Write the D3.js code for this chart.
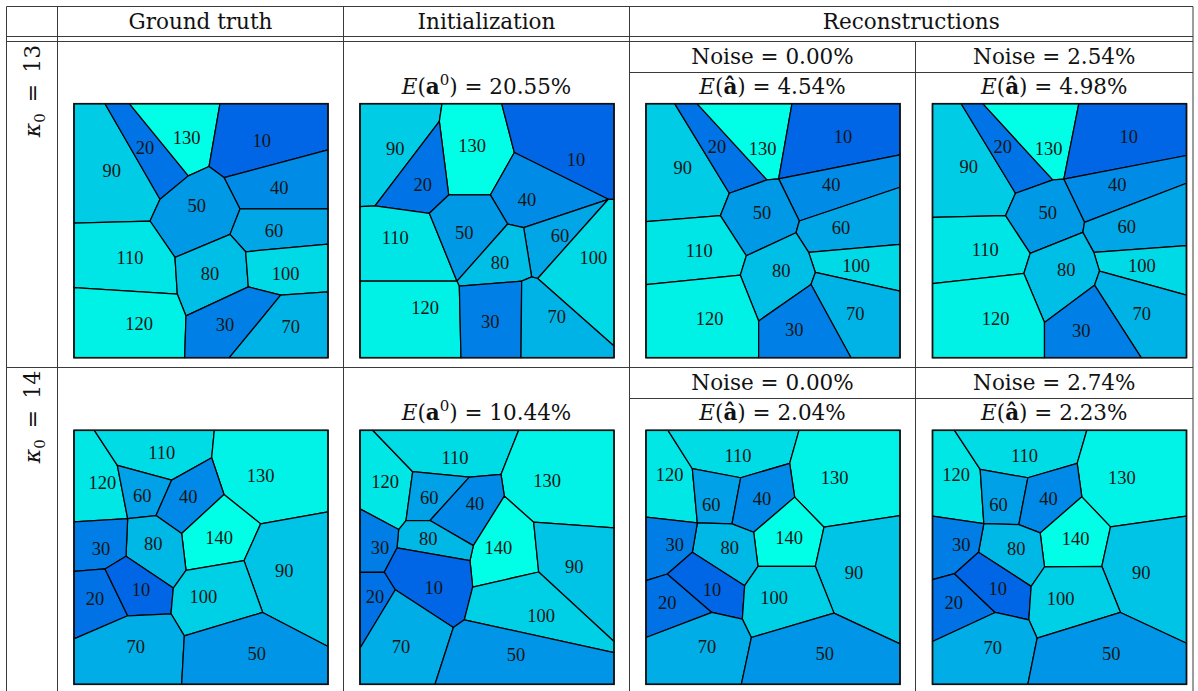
<!DOCTYPE html>
<html>
<head>
<meta charset="utf-8">
<script src="https://cdn.jsdelivr.net/npm/d3@7"></script>
<style>
  body { margin: 0; background: #fff; }
  svg { display: block; }
</style>
</head>
<body>
<svg id="fig" width="1198" height="691"></svg>
<script>
// ---- Tessellation data: each grain has its value, its generator site and its cell polygon
// (coordinates in microstructure units, x to the right, y downward, square 762 x 760).

const gt13 = [
  { value: 90,  site: [113, 201], cell: [[0,0],[93,0],[258,286],[228,351],[0,357]] },
  { value: 20,  site: [213, 131], cell: [[93,0],[166,0],[343,216],[258,286]] },
  { value: 130, site: [338, 103], cell: [[166,0],[438,0],[405,188],[343,216]] },
  { value: 10,  site: [563, 111], cell: [[438,0],[762,0],[762,138],[450,221],[405,188]] },
  { value: 40,  site: [616, 251], cell: [[450,221],[762,138],[762,315],[498,315]] },
  { value: 50,  site: [368, 305], cell: [[258,286],[343,216],[405,188],[450,221],[498,315],[468,391],[303,460],[228,351]] },
  { value: 60,  site: [600, 380], cell: [[498,315],[762,315],[762,420],[515,443],[468,391]] },
  { value: 110, site: [168, 460], cell: [[0,357],[228,351],[303,460],[310,570],[0,550]] },
  { value: 80,  site: [408, 510], cell: [[303,460],[468,391],[515,443],[523,548],[336,635],[310,570]] },
  { value: 100, site: [635, 510], cell: [[515,443],[762,420],[762,563],[620,573],[523,548]] },
  { value: 120, site: [195, 658], cell: [[0,550],[310,570],[336,635],[332,760],[0,760]] },
  { value: 30,  site: [453, 660], cell: [[336,635],[523,548],[620,573],[466,760],[332,760]] },
  { value: 70,  site: [650, 668], cell: [[620,573],[762,563],[762,760],[466,760]] }
];

const init13 = [
  { value: 90,  site: [106, 136], cell: [[0,0],[246,0],[238,53],[45,306],[0,308]] },
  { value: 130, site: [336, 126], cell: [[246,0],[425,0],[463,146],[391,273],[266,273],[238,53]] },
  { value: 10,  site: [648, 168], cell: [[425,0],[762,0],[762,286],[745,286],[463,146]] },
  { value: 20,  site: [188, 241], cell: [[238,53],[266,273],[208,328],[45,306]] },
  { value: 40,  site: [501, 288], cell: [[463,146],[745,286],[491,371],[443,360],[391,273]] },
  { value: 110, site: [106, 401], cell: [[0,308],[45,306],[208,328],[291,531],[0,531]] },
  { value: 50,  site: [313, 385], cell: [[266,273],[391,273],[443,360],[291,531],[208,328]] },
  { value: 60,  site: [600, 396], cell: [[491,371],[745,286],[533,523],[515,518]] },
  { value: 100, site: [700, 460], cell: [[533,523],[745,286],[762,286],[762,725]] },
  { value: 80,  site: [420, 476], cell: [[443,360],[491,371],[515,518],[485,531],[298,546],[291,531]] },
  { value: 120, site: [195, 611], cell: [[0,531],[291,531],[298,546],[303,760],[0,760]] },
  { value: 30,  site: [391, 651], cell: [[298,546],[485,531],[483,760],[303,760]] },
  { value: 70,  site: [590, 638], cell: [[485,531],[515,518],[533,523],[762,725],[762,760],[483,760]] }
];

const rec13Clean = [
  { value: 90,  site: [110, 193], cell: [[0,0],[86,0],[250,268],[223,335],[0,353]] },
  { value: 20,  site: [213, 128], cell: [[86,0],[153,0],[363,228],[250,268]] },
  { value: 130, site: [350, 135], cell: [[153,0],[438,0],[398,225],[363,228]] },
  { value: 10,  site: [591, 98],  cell: [[438,0],[762,0],[762,153],[398,225]] },
  { value: 40,  site: [556, 243], cell: [[398,225],[762,153],[762,250],[460,351]] },
  { value: 50,  site: [348, 326], cell: [[250,268],[363,228],[398,225],[460,351],[450,386],[301,455],[223,335]] },
  { value: 60,  site: [585, 371], cell: [[460,351],[762,250],[762,421],[488,445],[450,386]] },
  { value: 110, site: [160, 441], cell: [[0,353],[223,335],[301,455],[283,513],[0,541]] },
  { value: 100, site: [630, 485], cell: [[488,445],[762,421],[762,561],[508,505]] },
  { value: 80,  site: [406, 501], cell: [[301,455],[450,386],[488,445],[508,505],[495,541],[338,650],[283,513]] },
  { value: 120, site: [191, 643], cell: [[0,541],[283,513],[338,650],[338,760],[0,760]] },
  { value: 70,  site: [628, 628], cell: [[508,505],[762,561],[762,760],[615,760],[495,541]] },
  { value: 30,  site: [445, 676], cell: [[338,650],[495,541],[615,760],[338,760]] }
];

const rec13Noisy = [
  { value: 90,  site: [109, 190], cell: [[0,0],[86,0],[249,268],[219,335],[0,340]] },
  { value: 20,  site: [211, 128], cell: [[86,0],[151,0],[361,228],[249,268]] },
  { value: 130, site: [348, 135], cell: [[151,0],[439,0],[394,226],[361,228]] },
  { value: 10,  site: [589, 98],  cell: [[439,0],[762,0],[762,155],[394,226]] },
  { value: 40,  site: [554, 241], cell: [[394,226],[762,155],[762,238],[456,355]] },
  { value: 50,  site: [346, 326], cell: [[249,268],[361,228],[394,226],[456,355],[451,385],[293,448],[219,335]] },
  { value: 60,  site: [583, 368], cell: [[456,355],[762,238],[762,425],[484,445],[451,385]] },
  { value: 110, site: [158, 438], cell: [[0,340],[219,335],[293,448],[274,508],[0,538]] },
  { value: 100, site: [628, 485], cell: [[484,445],[762,425],[762,573],[501,501]] },
  { value: 80,  site: [401, 498], cell: [[293,448],[451,385],[484,445],[501,501],[486,543],[336,655],[274,508]] },
  { value: 120, site: [189, 643], cell: [[0,538],[274,508],[336,655],[336,760],[0,760]] },
  { value: 70,  site: [628, 628], cell: [[501,501],[762,573],[762,760],[626,760],[486,543]] },
  { value: 30,  site: [446, 680], cell: [[336,655],[486,543],[626,760],[336,760]] }
];

const gt14 = [
  { value: 120, site: [85, 157],  cell: [[0,0],[61,0],[130,105],[161,264],[0,274]] },
  { value: 110, site: [263, 67],  cell: [[61,0],[421,0],[413,82],[293,149],[130,105]] },
  { value: 130, site: [560, 135], cell: [[421,0],[762,0],[762,244],[560,280],[450,192],[413,82]] },
  { value: 60,  site: [205, 197], cell: [[130,105],[293,149],[246,255],[161,264]] },
  { value: 40,  site: [343, 200], cell: [[293,149],[413,82],[450,192],[323,309],[246,255]] },
  { value: 140, site: [435, 320], cell: [[450,192],[560,280],[510,390],[336,419],[323,309]] },
  { value: 90,  site: [631, 420], cell: [[560,280],[762,244],[762,647],[566,545],[510,390]] },
  { value: 80,  site: [238, 340], cell: [[161,264],[246,255],[323,309],[336,419],[298,472],[156,377]] },
  { value: 30,  site: [81, 354],  cell: [[0,274],[161,264],[156,377],[93,415],[0,422]] },
  { value: 20,  site: [63, 505],  cell: [[0,422],[93,415],[161,555],[0,624]] },
  { value: 10,  site: [201, 477], cell: [[93,415],[156,377],[298,472],[291,549],[161,555]] },
  { value: 100, site: [388, 499], cell: [[336,419],[510,390],[566,545],[331,615],[291,549],[298,472]] },
  { value: 70,  site: [185, 647], cell: [[0,624],[161,555],[291,549],[331,615],[323,760],[0,760]] },
  { value: 50,  site: [548, 669], cell: [[331,615],[566,545],[762,647],[762,760],[323,760]] }
];

const init14 = [
  { value: 120, site: [75, 155],  cell: [[0,0],[38,0],[158,124],[138,270],[116,297],[0,235]] },
  { value: 110, site: [285, 82],  cell: [[38,0],[476,0],[423,132],[328,140],[158,124]] },
  { value: 130, site: [561, 150], cell: [[476,0],[762,0],[762,292],[521,275],[433,197],[423,132]] },
  { value: 60,  site: [208, 202], cell: [[158,124],[328,140],[210,270],[138,270]] },
  { value: 40,  site: [345, 219], cell: [[328,140],[423,132],[433,197],[340,345],[210,270]] },
  { value: 140, site: [415, 352], cell: [[433,197],[521,275],[536,424],[338,469],[330,390],[340,345]] },
  { value: 90,  site: [643, 407], cell: [[521,275],[762,292],[762,632],[536,424]] },
  { value: 80,  site: [205, 325], cell: [[138,270],[210,270],[340,345],[330,390],[111,352],[116,297]] },
  { value: 30,  site: [60, 352],  cell: [[0,235],[116,297],[111,352],[73,424],[0,425]] },
  { value: 20,  site: [45, 497],  cell: [[0,425],[73,424],[106,477],[0,652]] },
  { value: 10,  site: [221, 470], cell: [[111,352],[330,390],[338,469],[313,567],[280,590],[106,477],[73,424]] },
  { value: 100, site: [543, 554], cell: [[338,469],[536,424],[762,632],[762,665],[313,567]] },
  { value: 70,  site: [123, 649], cell: [[0,652],[106,477],[280,590],[225,760],[0,760]] },
  { value: 50,  site: [468, 670], cell: [[280,590],[313,567],[762,665],[762,760],[225,760]] }
];

const rec14Clean = [
  { value: 120, site: [71, 132],  cell: [[0,0],[66,0],[139,115],[154,277],[0,260]] },
  { value: 110, site: [276, 75],  cell: [[66,0],[459,0],[431,99],[284,142],[139,115]] },
  { value: 130, site: [566, 142], cell: [[459,0],[762,0],[762,255],[534,290],[446,200],[431,99]] },
  { value: 60,  site: [196, 222], cell: [[139,115],[284,142],[258,280],[154,277]] },
  { value: 40,  site: [348, 205], cell: [[284,142],[431,99],[446,200],[323,305],[258,280]] },
  { value: 140, site: [429, 322], cell: [[446,200],[534,290],[508,407],[336,407],[323,305]] },
  { value: 90,  site: [624, 427], cell: [[534,290],[762,255],[762,639],[564,547],[508,407]] },
  { value: 80,  site: [251, 352], cell: [[154,277],[258,280],[323,305],[336,407],[296,465],[139,365]] },
  { value: 30,  site: [86, 342],  cell: [[0,260],[154,277],[139,365],[64,430],[0,450]] },
  { value: 20,  site: [64, 515],  cell: [[0,450],[64,430],[198,545],[0,620]] },
  { value: 10,  site: [198, 477], cell: [[139,365],[296,465],[289,565],[198,545],[64,430]] },
  { value: 100, site: [384, 502], cell: [[336,407],[508,407],[564,547],[316,620],[289,565],[296,465]] },
  { value: 70,  site: [183, 647], cell: [[0,620],[198,545],[289,565],[316,620],[286,760],[0,760]] },
  { value: 50,  site: [536, 669], cell: [[316,620],[564,547],[762,639],[762,760],[286,760]] }
];

const rec14Noisy = [
  { value: 120, site: [71, 132],  cell: [[0,0],[66,0],[143,117],[154,279],[0,257]] },
  { value: 110, site: [276, 75],  cell: [[66,0],[463,0],[434,99],[286,142],[143,117]] },
  { value: 130, site: [568, 142], cell: [[463,0],[762,0],[762,257],[534,289],[448,199],[434,99]] },
  { value: 60,  site: [198, 222], cell: [[143,117],[286,142],[259,282],[154,279]] },
  { value: 40,  site: [348, 205], cell: [[286,142],[434,99],[448,199],[323,307],[259,282]] },
  { value: 140, site: [429, 324], cell: [[448,199],[534,289],[508,407],[336,409],[323,307]] },
  { value: 90,  site: [626, 427], cell: [[534,289],[762,257],[762,637],[564,545],[508,407]] },
  { value: 80,  site: [251, 354], cell: [[154,279],[259,282],[323,307],[336,409],[296,467],[138,365]] },
  { value: 30,  site: [86, 342],  cell: [[0,257],[154,279],[138,365],[66,429],[0,447]] },
  { value: 20,  site: [64, 517],  cell: [[0,447],[66,429],[188,545],[0,632]] },
  { value: 10,  site: [196, 475], cell: [[138,365],[296,467],[289,567],[188,545],[66,429]] },
  { value: 100, site: [384, 504], cell: [[336,409],[508,407],[564,545],[314,622],[289,567],[296,467]] },
  { value: 70,  site: [181, 650], cell: [[0,632],[188,545],[289,567],[314,622],[286,760],[0,760]] },
  { value: 50,  site: [536, 669], cell: [[314,622],[564,545],[762,637],[762,760],[286,760]] }
];

// ---- Table text
const columnTitles = ["Ground truth", "Initialization", "Reconstructions"];
const kappaValues = ["13", "14"];
const initErrors = ["20.55", "10.44"];
const noiseLevels = [["0.00", "2.54"], ["0.00", "2.74"]];
const reconErrors = [["4.54", "4.98"], ["2.04", "2.23"]];

const panelRows = [
  [gt13, init13, rec13Clean, rec13Noisy],
  [gt14, init14, rec14Clean, rec14Noisy]
];

// ---- Layout
const svg = d3.select("#fig");
const textFont = "'DejaVu Serif', serif";
const numFont = "'Liberation Serif', 'DejaVu Serif', serif";
const ruleColor = "#3a3a3a";

const colEdges = [6.5, 57.5, 343.5, 629.5, 915.5, 1193];
const rowTop = [41.5, 367.5];
const panelLeft = [74, 360, 646, 932.5];
const panelTop = [103.7, 430.3];
const panelSize = 254;
const domainX = [0, 762], domainY = [0, 760];

// ---- Table rules
const rules = svg.append("g").attr("stroke", ruleColor).attr("stroke-width", 1).attr("fill", "none");
function hline(y, x0, x1) { rules.append("line").attr("x1", x0).attr("x2", x1).attr("y1", y).attr("y2", y); }
function vline(x, y0, y1) { rules.append("line").attr("x1", x).attr("x2", x).attr("y1", y0).attr("y2", y1); }

hline(6.5, colEdges[0], colEdges[5]);
hline(36.5, colEdges[0], colEdges[5]);
hline(41.5, colEdges[0], colEdges[5]);
hline(367.5, colEdges[0], colEdges[5]);
rowTop.forEach(t => hline(t + 31, colEdges[3], colEdges[5]));
[0, 1, 2, 3, 5].forEach(i => vline(colEdges[i], 6.5, 691));
vline(colEdges[4], 41.5, 691);

// ---- Header
const headerCenters = [(colEdges[1] + colEdges[2]) / 2, (colEdges[2] + colEdges[3]) / 2, (colEdges[3] + colEdges[5]) / 2];
columnTitles.forEach((t, i) => {
  svg.append("text").attr("x", headerCenters[i]).attr("y", 28.5)
    .attr("text-anchor", "middle").attr("font-family", textFont).attr("font-size", 21.5)
    .attr("fill", "#111").text(t);
});

function mathLabel(x, y) {
  return svg.append("text").attr("x", x).attr("y", y).attr("text-anchor", "middle")
    .attr("font-family", textFont).attr("font-size", 21.5).attr("fill", "#111");
}

const recCenters = [(colEdges[3] + colEdges[4]) / 2, (colEdges[4] + colEdges[5]) / 2];

rowTop.forEach((top, r) => {
  // rotated row label  kappa_0 = n
  const k = svg.append("text")
    .attr("transform", `translate(40,${top + 49.5}) rotate(-90)`)
    .attr("text-anchor", "middle").attr("font-family", textFont).attr("font-size", 22).attr("fill", "#111");
  k.append("tspan").attr("font-style", "italic").text("κ");
  k.append("tspan").attr("font-size", 15).attr("dy", 5).text("0");
  k.append("tspan").attr("dy", -5).text("\u2002=\u2002" + kappaValues[r]);

  // initial error
  const e0 = mathLabel(headerCenters[1], top + 52);
  e0.append("tspan").attr("font-style", "italic").text("E");
  e0.append("tspan").text("(");
  e0.append("tspan").attr("font-weight", "bold").text("a");
  e0.append("tspan").attr("font-size", 15).attr("dy", -9).text("0");
  e0.append("tspan").attr("dy", 9).text(")");
  e0.append("tspan").text(" = " + initErrors[r] + "%");

  // reconstructions: noise level and error
  recCenters.forEach((cx, j) => {
    mathLabel(cx, top + 22).text("Noise = " + noiseLevels[r][j] + "%");
    const e = mathLabel(cx, top + 52);
    e.append("tspan").attr("font-style", "italic").text("E");
    e.append("tspan").text("(");
    e.append("tspan").attr("font-weight", "bold").text("â");
    e.append("tspan").text(")");
    e.append("tspan").text(" = " + reconErrors[r][j] + "%");
  });
});

// ---- Tessellation panels
panelRows.forEach((row, r) => {
  const vmax = d3.max(row.flat(), d => d.value);
  const color = d3.scaleLinear().domain([10, vmax]).range(["#0066e6", "#00ffe6"]);
  row.forEach((grains, c) => {
    const x = d3.scaleLinear().domain(domainX).range([panelLeft[c], panelLeft[c] + panelSize]);
    const y = d3.scaleLinear().domain(domainY).range([panelTop[r], panelTop[r] + panelSize]);
    const path = d3.line().x(p => x(p[0])).y(p => y(p[1]));
    const g = svg.append("g");

    g.selectAll("path.grain").data(grains).join("path")
      .attr("class", "grain")
      .attr("d", d => path(d.cell) + "Z")
      .attr("fill", d => color(d.value))
      .attr("stroke", "#000").attr("stroke-width", 1.25).attr("stroke-linejoin", "round");

    g.append("rect")
      .attr("x", x(domainX[0])).attr("y", y(domainY[0]))
      .attr("width", x(domainX[1]) - x(domainX[0])).attr("height", y(domainY[1]) - y(domainY[0]))
      .attr("fill", "none").attr("stroke", "#111").attr("stroke-width", 1.6);

    g.selectAll("text.value").data(grains).join("text")
      .attr("class", "value")
      .attr("x", d => x(d.site[0])).attr("y", d => y(d.site[1]))
      .attr("dy", "0.34em").attr("text-anchor", "middle")
      .attr("font-family", numFont).attr("font-size", 18.5).attr("fill", "#151515")
      .text(d => d.value);
  });
});
</script>
</body>
</html>
